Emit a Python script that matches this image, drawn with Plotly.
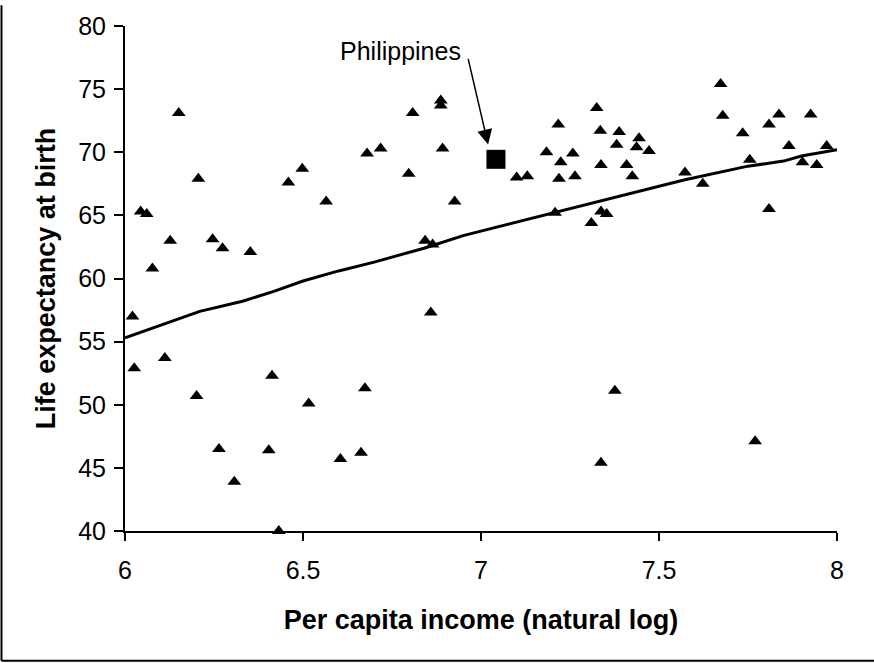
import plotly.graph_objects as go

# Countries: per capita income (natural log) and life expectancy at birth
income_ln = [6.021, 6.026, 6.044, 6.061, 6.077, 6.112, 6.127, 6.151, 6.201, 6.206,
             6.246, 6.264, 6.274, 6.307, 6.352, 6.404, 6.413, 6.432, 6.459, 6.498,
             6.516, 6.565, 6.605, 6.663, 6.674, 6.680, 6.718, 6.797, 6.808, 6.843,
             6.859, 6.864, 6.887, 6.887, 6.892, 6.926, 7.100, 7.130, 7.184, 7.208,
             7.217, 7.219, 7.224, 7.258, 7.264, 7.310, 7.325, 7.335, 7.337, 7.337,
             7.337, 7.353, 7.376, 7.381, 7.388, 7.409, 7.425, 7.437, 7.444, 7.472,
             7.573, 7.623, 7.673, 7.679, 7.735, 7.755, 7.770, 7.809, 7.809, 7.837,
             7.865, 7.903, 7.926, 7.943, 7.971]
life_exp = [57.0, 52.9, 65.3, 65.1, 60.8, 53.7, 63.0, 73.1, 50.7, 67.9,
            63.1, 46.5, 62.4, 43.9, 62.1, 46.4, 52.3, 40.0, 67.6, 68.7,
            50.1, 66.1, 45.7, 46.2, 51.3, 69.9, 70.3, 68.3, 73.1, 63.0,
            57.3, 62.7, 74.1, 73.7, 70.3, 66.1, 68.0, 68.1, 70.0, 65.2,
            72.2, 67.9, 69.2, 69.9, 68.1, 64.4, 73.5, 71.7, 69.0, 65.3,
            45.4, 65.1, 51.1, 70.6, 71.6, 69.0, 68.1, 70.4, 71.1, 70.1,
            68.4, 67.5, 75.4, 72.9, 71.5, 69.4, 47.1, 72.2, 65.5, 73.0,
            70.5, 69.2, 73.0, 69.0, 70.5]

# Philippines
phil_x = [7.042]
phil_y = [69.44]
phil_label = "Philippines"

# Fitted curve
trend_x = [6.0, 6.1, 6.21, 6.33, 6.42, 6.5, 6.6, 6.7, 6.84, 6.95, 7.09, 7.2,
           7.33, 7.45, 7.57, 7.75, 7.85, 7.9, 8.0]
trend_y = [55.3, 56.3, 57.4, 58.2, 59.0, 59.8, 60.6, 61.3, 62.4, 63.4, 64.4, 65.2,
           66.1, 67.0, 67.8, 68.9, 69.3, 69.7, 70.2]

x_ticks = [6, 6.5, 7, 7.5, 8]
x_ticktext = ["6", "6.5", "7", "7.5", "8"]
y_ticks = [40, 45, 50, 55, 60, 65, 70, 75, 80]

FONT = "Liberation Sans, Arial, sans-serif"

fig = go.Figure()
fig.add_trace(go.Scatter(x=trend_x, y=trend_y, mode="lines",
                         line=dict(color="black", width=3), showlegend=False,
                         hoverinfo="skip"))
fig.add_trace(go.Scatter(x=income_ln, y=life_exp, mode="markers",
                         marker=dict(symbol="triangle-up", size=12, color="black",
                                     line=dict(width=0)),
                         cliponaxis=False, showlegend=False))
fig.add_trace(go.Scatter(x=phil_x, y=phil_y, mode="markers",
                         marker=dict(symbol="square", size=19, color="black",
                                     line=dict(width=0)),
                         cliponaxis=False, showlegend=False))

# Arrow and label
fig.add_annotation(x=7.020, y=70.61, ax=6.963, ay=77.51, xref="x", yref="y",
                   axref="x", ayref="y", text="", showarrow=True,
                   arrowhead=2, arrowsize=2, arrowwidth=1.5, arrowcolor="black")
fig.add_annotation(x=6.775, y=78.04, xref="x", yref="y", text=phil_label,
                   showarrow=False, xanchor="center", yanchor="middle",
                   font=dict(family=FONT, size=25, color="black"))

W, H = 874, 663
L, R, T, B = 125, 37, 21, 132
pw, ph = W - L - R, H - T - B
# Outer frame (left and bottom edges)
fx = (1.5 - L) / pw
fy = -(662 - (H - B)) / ph
fig.add_shape(type="line", xref="paper", yref="paper", x0=fx, x1=fx,
              y0=fy, y1=(H - B) / ph, line=dict(color="black", width=2))
fig.add_shape(type="line", xref="paper", yref="paper", x0=fx, x1=(W - L) / pw,
              y0=fy, y1=fy, line=dict(color="black", width=2))

fig.update_layout(
    width=W, height=H,
    margin=dict(l=L, r=R, t=T, b=B),
    paper_bgcolor="white", plot_bgcolor="white",
    font=dict(family=FONT, color="black"),
    xaxis=dict(range=[6, 8], tickvals=x_ticks, ticktext=x_ticktext,
               showgrid=False, zeroline=False, showline=True, linecolor="black",
               linewidth=2, ticks="outside", ticklen=8, tickwidth=2,
               tickcolor="black", ticklabelstandoff=8,
               tickfont=dict(family=FONT, size=25),
               title=dict(text="<b>Per capita income (natural log)</b>",
                          font=dict(family=FONT, size=27), standoff=27)),
    yaxis=dict(range=[40, 80], tickvals=y_ticks,
               showgrid=False, zeroline=False, showline=True, linecolor="black",
               linewidth=2, ticks="outside", ticklen=9, tickwidth=2,
               tickcolor="black", ticklabelstandoff=3,
               tickfont=dict(family=FONT, size=25),
               title=dict(text="<b>Life expectancy at birth</b>",
                          font=dict(family=FONT, size=27), standoff=15)),
)

fig.write_html("out.html")
